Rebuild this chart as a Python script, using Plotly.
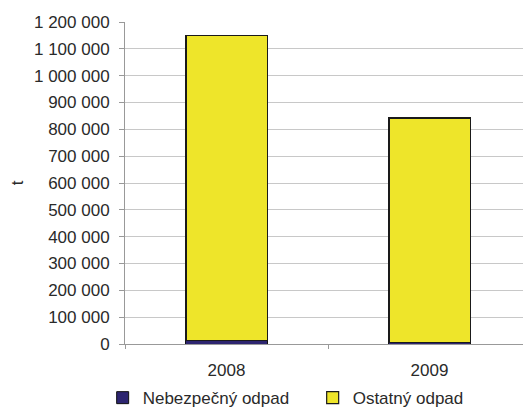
import plotly.graph_objects as go

years = ["2008", "2009"]
nebezpecny = [14000, 5000]
ostatny = [1137000, 837000]

fig = go.Figure()
fig.add_trace(go.Bar(x=years, y=nebezpecny, name="Nebezpečný odpad",
                     marker=dict(color="#2D2570", line=dict(color="#111111", width=1))))
fig.add_trace(go.Bar(x=years, y=ostatny, name="Ostatný odpad",
                     marker=dict(color="#EEE52A", line=dict(color="#1a1a1a", width=1.2))))

fig.update_layout(
    width=523, height=404,
    barmode="stack", bargap=0.6,
    margin=dict(l=117, r=0, t=14, b=68, autoexpand=False),
    plot_bgcolor="white", paper_bgcolor="white",
    separators=", ",
    font=dict(family="Liberation Sans, Arial", size=17, color="#2a2a2a"),
    yaxis=dict(range=[0, 1200000], dtick=100000, tickformat=",d",
               showgrid=True, gridcolor="#c8c8c8", gridwidth=1,
               showline=True, linecolor="#999999", ticks="outside", ticklen=5,
               tickcolor="#999999", zeroline=False, ticklabelstandoff=6,
               title=dict(text="t", standoff=10, font=dict(size=17))),
    xaxis=dict(showline=True, linecolor="#999999", ticks="outside", ticklen=4,
               tickcolor="#999999", tickson="boundaries", ticklabelstandoff=11,
               range=[-0.5, 1.5]),
    legend=dict(orientation="h", x=-0.055, xanchor="left", y=-0.168, yanchor="middle",
                font=dict(size=17), traceorder="normal", itemwidth=30,
                entrywidth=165, entrywidthmode="pixels"),
    showlegend=True,
)
fig.write_html("out.html")
